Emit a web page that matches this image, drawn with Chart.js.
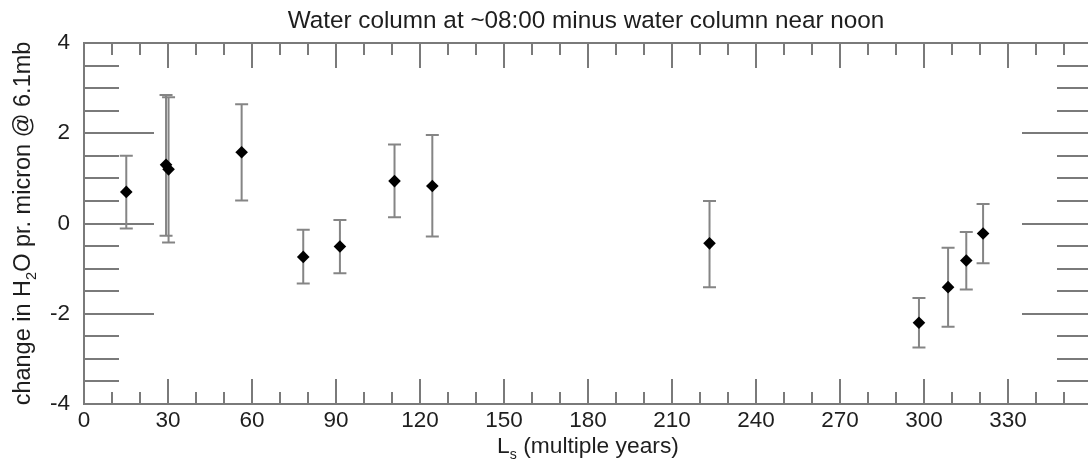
<!DOCTYPE html>
<html>
<head>
<meta charset="utf-8">
<script src="https://cdn.jsdelivr.net/npm/chart.js@4/dist/chart.umd.min.js"></script>
<style>
  html, body { margin: 0; padding: 0; background: #fff; overflow: hidden; }
  #wrap { position: absolute; left: 0; top: 0; width: 1100px; height: 460px; }
</style>
</head>
<body>
<div id="wrap"><canvas id="c"></canvas></div>
<script>
// ---- data ----
const ls        = [15.1, 29.3, 30.2, 56.3, 78.3, 91.4, 110.9, 124.4, 223.4, 298.2, 308.6, 315.1, 321.1];
const dH2O      = [0.70, 1.30, 1.20, 1.58, -0.74, -0.51, 0.94, 0.83, -0.44, -2.20, -1.41, -0.82, -0.22];
const errTop    = [1.50, 2.85, 2.80, 2.64, -0.14, 0.08, 1.75, 1.96, 0.50, -1.65, -0.54, -0.19, 0.43];
const errBottom = [-0.11, -0.27, -0.42, 0.51, -1.33, -1.10, 0.14, -0.29, -1.41, -2.75, -2.29, -1.46, -0.88];
const xTickValues = [0, 30, 60, 90, 120, 150, 180, 210, 240, 270, 300, 330];
const yTickValues = [-4, -2, 0, 2, 4];
const xMinorTicks = [10,20,30,40,50,60,70,80,90,100,110,120,130,140,150,160,170,180,190,200,210,220,230,240,250,260,270,280,290,300,310,320,330,340,350];
const yMinorTicks = [-3.5,-3,-2.5,-2,-1.5,-1,-0.5,0,0.5,1,1.5,2,2.5,3,3.5];
const titleText = 'Water column at ~08:00 minus water column near noon';
const yTitleParts = [['change in H', false], ['2', true], ['O pr. micron @ 6.1mb', false]];
const xTitleParts = [['L', false], ['s', true], [' (multiple years)', false]];

const FONT = '"Liberation Sans", Arial, Helvetica, sans-serif';
const TEXT = '#1e1e1e';
const AXIS = '#7a7a7a';

function drawParts(ctx, parts, size, cx, baseY) {
  const widths = parts.map(([t, sub]) => {
    ctx.font = (sub ? size * 0.62 : size) + 'px ' + FONT;
    return ctx.measureText(t).width;
  });
  const total = widths.reduce((a, b) => a + b, 0);
  let x = cx - total / 2;
  ctx.textAlign = 'left';
  ctx.textBaseline = 'alphabetic';
  parts.forEach(([t, sub], i) => {
    ctx.font = (sub ? size * 0.62 : size) + 'px ' + FONT;
    ctx.fillText(t, x, baseY + (sub ? size * 0.26 : 0));
    x += widths[i];
  });
}

const decor = {
  id: 'decor',
  beforeDatasetsDraw(chart) {
    const ctx = chart.ctx;
    const xs = chart.scales.x, ys = chart.scales.y;
    const { left, right, top, bottom } = chart.chartArea;
    ctx.save();
    ctx.strokeStyle = AXIS;
    ctx.lineWidth = 2;
    // frame
    ctx.strokeRect(left, top, right - left, bottom - top);
    ctx.beginPath();
    xMinorTicks.forEach(v => {
      const px = Math.round(xs.getPixelForValue(v));
      const len = (v % 30 === 0) ? 25 : 12;
      ctx.moveTo(px, bottom); ctx.lineTo(px, bottom - len);
      ctx.moveTo(px, top); ctx.lineTo(px, top + len);
    });
    yMinorTicks.forEach(v => {
      const py = Math.round(ys.getPixelForValue(v));
      const len = (v % 2 === 0) ? 70 : 35;
      ctx.moveTo(left, py); ctx.lineTo(left + len, py);
      ctx.moveTo(right, py); ctx.lineTo(right - len, py);
    });
    ctx.stroke();
    // error bars
    ctx.strokeStyle = '#858585';
    ctx.lineWidth = 2;
    ctx.beginPath();
    ls.forEach((v, i) => {
      const px = xs.getPixelForValue(v);
      const pt = ys.getPixelForValue(errTop[i]);
      const pb = ys.getPixelForValue(errBottom[i]);
      ctx.moveTo(px, pt); ctx.lineTo(px, pb);
      ctx.moveTo(px - 6.5, pt); ctx.lineTo(px + 6.5, pt);
      ctx.moveTo(px - 6.5, pb); ctx.lineTo(px + 6.5, pb);
    });
    ctx.stroke();
    ctx.restore();
  },
  afterDraw(chart) {
    const ctx = chart.ctx;
    const { left, right, top, bottom } = chart.chartArea;
    ctx.save();
    ctx.fillStyle = TEXT;
    // title
    ctx.font = '24.3px ' + FONT;
    ctx.textAlign = 'center';
    ctx.textBaseline = 'alphabetic';
    ctx.fillText(titleText, (left + right) / 2 - 2, 28);
    // x title
    drawParts(ctx, xTitleParts, 22.8, (left + right) / 2, 453);
    // y title
    ctx.save();
    ctx.translate(30, (top + bottom) / 2);
    ctx.rotate(-Math.PI / 2);
    drawParts(ctx, yTitleParts, 23.5, 0, 0);
    ctx.restore();
    ctx.restore();
  }
};

new Chart(document.getElementById('c'), {
  type: 'scatter',
  data: {
    datasets: [{
      data: ls.map((x, i) => ({ x: x, y: dH2O[i] })),
      pointStyle: 'rectRot',
      pointRadius: 6.3,
      pointHoverRadius: 6.3,
      backgroundColor: '#000',
      borderColor: '#000',
      borderWidth: 0
    }]
  },
  options: {
    responsive: true,
    maintainAspectRatio: false,
    animation: false,
    devicePixelRatio: 1,
    layout: { padding: { left: 0, right: 8, top: 43, bottom: 0 } },
    plugins: { legend: { display: false }, title: { display: false }, tooltip: { enabled: false } },
    scales: {
      x: {
        type: 'linear', min: 0, max: 360,
        afterBuildTicks: s => { s.ticks = xTickValues.map(v => ({ value: v })); },
        afterFit: s => { s.height = 56; },
        grid: { display: false, drawTicks: false },
        border: { display: false },
        ticks: { color: TEXT, font: { family: FONT, size: 22.5 }, padding: 3, maxRotation: 0, autoSkip: false }
      },
      y: {
        type: 'linear', min: -4, max: 4,
        afterBuildTicks: s => { s.ticks = yTickValues.map(v => ({ value: v })); },
        afterFit: s => { s.width = 84; },
        grid: { display: false, drawTicks: false },
        border: { display: false },
        ticks: { color: TEXT, font: { family: FONT, size: 22.5 }, padding: 14 }
      }
    }
  },
  plugins: [decor]
});
</script>
</body>
</html>
